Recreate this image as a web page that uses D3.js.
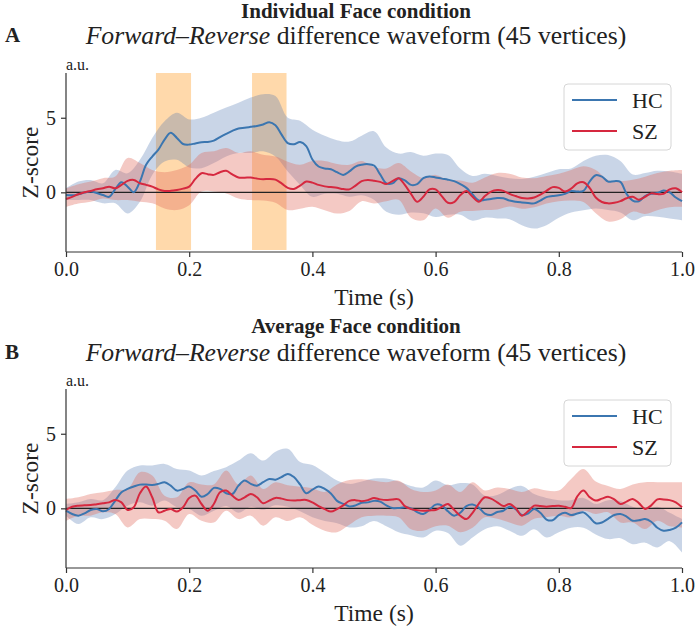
<!DOCTYPE html>
<html><head><meta charset="utf-8">
<script src="https://cdn.jsdelivr.net/npm/d3@7"></script>
<style>body{margin:0;background:#fff}svg{display:block}text{font-family:"Liberation Serif","Times New Roman",serif;fill:#222}</style>
</head><body><svg id="c" width="696" height="628"></svg>
<script>
// ---------- data ----------
const meanTime = d3.range(101).map(i => i / 100);
const bandTime = d3.range(51).map(i => i / 50);
const xTicks = [0, 0.2, 0.4, 0.6, 0.8, 1.0];
const xTickLabels = ["0.0", "0.2", "0.4", "0.6", "0.8", "1.0"];
const yTicks = [0, 5];
const yTickLabels = ["0", "5"];
const seriesNames = ["HC", "SZ"];
const spanStart = [0.146, 0.302];
const spanEnd = [0.203, 0.358];

// Panel A – Individual Face
const aHC = [-0.18,-0.2,-0.13,-0.02,0.05,-0.05,-0.18,-0.3,0.22,0.68,0.38,0.0,0.72,1.85,2.4,2.86,3.54,3.99,3.65,3.24,3.2,3.28,3.36,3.38,3.47,3.7,3.92,4.12,4.28,4.33,4.39,4.45,4.55,4.7,4.5,3.87,3.3,3.22,3.38,3.1,2.2,1.73,1.6,1.55,1.35,1.17,1.4,1.73,1.85,1.89,1.8,1.2,0.6,0.6,0.95,0.8,0.5,0.55,0.95,1.06,1.0,0.92,0.85,0.75,0.55,0.3,-0.15,-0.55,-0.5,-0.45,-0.38,-0.4,-0.55,-0.63,-0.68,-0.72,-0.74,-0.55,-0.32,-0.25,-0.2,-0.1,0.09,0.05,0.1,0.72,1.15,1.05,0.72,0.75,0.7,-0.1,-0.55,-0.6,-0.25,-0.1,-0.05,0.12,0.0,-0.35,-0.59];
const aSZ = [-0.45,-0.3,-0.13,0.0,0.09,0.2,0.27,0.38,0.27,0.5,0.77,0.83,0.61,0.5,0.38,0.2,0.09,0.1,0.16,0.25,0.38,0.9,1.28,1.22,1.17,1.35,1.44,1.2,0.99,0.98,0.99,0.92,0.88,0.9,0.85,0.6,0.3,0.23,0.45,0.72,0.65,0.5,0.4,0.35,0.3,0.22,0.2,0.45,0.75,0.83,0.78,0.7,0.56,0.75,0.95,0.5,-0.1,-0.63,-0.3,0.2,0.2,-0.25,-0.7,-0.65,-0.2,0.09,-0.3,-0.63,-0.25,0.05,0.15,0.1,-0.1,-0.25,-0.38,-0.41,-0.35,-0.15,0.1,0.35,0.3,0.05,0.25,0.6,0.68,0.3,-0.35,-0.65,-0.74,-0.7,-0.59,-0.4,-0.3,-0.5,-0.3,-0.07,-0.12,-0.1,0.2,0.27,0.0];
const aHCUp = [0.27,0.72,0.83,0.61,1.5,1.28,2.18,3.65,4.77,5.34,4.89,5.0,5.34,5.68,6.01,6.35,6.58,6.45,5.0,4.8,4.2,3.8,3.5,3.4,3.8,4.1,3.0,2.6,2.7,2.45,2.6,2.5,1.6,1.1,1.25,1.1,0.95,0.9,1.05,1.3,1.55,1.6,2.1,2.45,2.5,2.1,1.2,1.3,1.45,1.4,1.25];
const aHCLo = [-0.52,-0.52,-0.52,-0.74,-0.74,-1.42,-0.63,1.17,2.07,2.18,1.67,1.62,1.96,2.41,2.64,2.64,2.75,2.4,1.4,0.5,-0.3,-0.1,-0.1,-0.3,-0.2,-0.5,-1.3,-1.5,-1.35,-1.4,-1.65,-1.5,-1.5,-1.9,-1.7,-1.75,-1.8,-2.2,-2.43,-2.2,-1.7,-1.35,-1.2,-1.08,-1.19,-1.35,-1.87,-1.6,-1.64,-1.75,-1.87];
const aSZUp = [0.27,0.55,0.72,0.95,1.06,2.3,1.96,1.5,1.35,1.5,1.85,2.64,2.75,2.97,2.64,2.75,2.52,2.4,2.05,1.85,2.1,2.1,1.9,1.85,2.1,1.7,1.6,1.96,1.4,0.95,1.17,0.85,0.8,0.65,1.0,1.3,1.25,1.0,0.95,1.1,1.25,1.5,1.75,1.5,0.83,0.75,0.85,1.05,1.3,1.45,1.5];
const aSZLo = [-0.97,-0.75,-0.63,-0.41,-0.52,-0.52,-0.63,-0.74,-1.08,-1.19,-0.86,0.05,0.05,-0.07,-0.41,-0.52,-0.55,-0.7,-1.19,-1.1,-0.97,-1.2,-1.42,-1.25,-0.6,-0.75,-0.6,-0.5,-1.7,-1.87,-1.08,-1.7,-1.3,-1.25,-1.19,-1.15,-0.95,-1.1,-1.0,-0.75,-0.6,-0.55,-0.65,-1.4,-1.95,-1.8,-1.3,-1.45,-1.2,-1.0,-0.97];

// Panel B – Average Face
const bHC = [-0.16,-0.38,-0.49,-0.34,-0.11,-0.04,-0.2,-0.04,0.52,1.08,1.3,1.46,1.59,1.59,1.57,1.64,1.75,1.52,1.19,1.3,1.46,1.19,0.78,0.96,1.37,1.3,1.01,0.96,1.52,1.86,1.64,1.52,1.75,1.97,1.92,2.1,2.31,2.1,1.6,1.01,1.25,1.46,1.3,1.0,0.5,0.3,0.13,0.2,0.38,0.4,0.5,0.45,0.2,0.02,0.02,0.07,0.0,-0.25,-0.38,-0.1,0.25,0.2,-0.2,-0.49,-0.3,0.15,0.25,0.05,-0.35,-0.45,-0.25,-0.16,0.11,-0.05,-0.45,-0.35,-0.05,-0.3,-0.75,-0.8,-0.45,-0.3,-0.45,-0.35,-0.27,-0.6,-1.0,-0.95,-0.7,-0.45,-0.38,-0.55,-0.83,-0.8,-0.72,-0.9,-1.3,-1.5,-1.45,-1.3,-0.94];
const bSZ = [-0.11,0.11,0.18,0.2,0.22,0.28,0.34,0.4,0.56,0.4,-0.11,0.07,1.01,1.46,0.74,-0.27,-0.16,-0.04,-0.22,0.07,0.69,0.85,0.29,-0.16,0.29,1.08,1.19,0.85,0.56,0.74,0.96,0.74,0.34,0.52,0.7,0.65,0.55,0.52,0.55,0.56,0.4,0.15,-0.05,-0.22,-0.05,0.2,0.5,0.55,0.48,0.55,0.69,0.6,0.56,0.6,0.6,0.15,-0.05,-0.12,-0.16,-0.14,-0.11,0.1,0.29,-0.1,-0.5,-0.72,-0.3,0.3,0.74,0.65,0.4,0.15,0.29,0.0,-0.49,-0.2,0.18,0.15,0.11,0.15,0.18,0.1,0.02,0.8,1.19,0.75,0.52,0.65,0.78,0.6,0.29,0.45,0.63,0.35,-0.04,0.2,0.6,0.6,0.55,0.4,0.07];
const bHCUp = [0.29,0.4,0.63,0.55,1.41,2.53,2.87,2.87,2.98,2.64,2.53,2.2,2.5,2.76,3.2,3.7,3.2,3.8,3.99,3.1,2.9,2.4,1.86,1.64,1.8,2.0,2.0,1.8,1.5,1.4,1.86,1.55,1.7,1.6,0.85,0.9,1.3,1.5,0.96,0.7,0.55,0.55,0.7,0.3,0.55,0.5,0.1,-0.1,0.1,-0.3,-0.72];
const bHCLo = [-0.49,-1.05,-0.6,-0.72,-0.38,0.18,0.4,0.18,0.52,0.07,-0.04,-0.49,-0.16,0.15,-0.3,0.11,-0.1,0.2,0.1,-0.2,-0.6,-0.85,-1.0,-1.28,-1.2,-0.85,-1.2,-1.6,-1.8,-1.95,-1.5,-1.65,-2.5,-1.95,-1.4,-1.2,-1.5,-1.84,-1.4,-1.95,-1.6,-1.3,-1.3,-1.75,-2.06,-2.0,-2.4,-2.3,-2.62,-2.2,-2.96];
const bSZUp = [0.63,0.74,0.96,1.08,1.23,1.3,2.42,2.2,0.85,0.74,1.75,1.6,1.6,2.53,1.6,2.2,1.3,1.75,1.55,1.45,1.35,1.1,1.6,1.9,1.95,1.85,1.75,1.85,1.3,1.1,1.2,1.6,1.1,1.75,1.2,1.4,1.3,1.1,1.35,1.2,1.2,1.97,2.64,1.8,1.5,1.3,1.6,1.75,1.75,1.75,1.75];
const bSZLo = [-0.83,-0.49,-0.49,-0.27,-0.38,-1.28,-0.72,-0.72,-0.83,-1.39,-0.38,-0.83,-0.95,-0.16,-0.72,-0.49,-1.16,-0.6,-0.85,-0.6,-1.1,-1.5,-1.6,-1.1,-0.6,-0.5,-0.5,-0.6,-1.4,-1.5,-1.2,-1.16,-1.6,-1.3,-0.6,-0.7,-0.95,-1.16,-0.7,-0.6,-0.5,-0.6,-0.16,-0.38,-0.27,-0.95,-0.95,-1.39,-0.83,-1.2,-1.28];

// ---------- drawing ----------
const svg = d3.select("#c");
const lineColor = {HC: "#3b76b0", SZ: "#d6283f"};
const bandColor = {HC: "#4b73af", SZ: "#e0685c"};
const bandOpacity = {HC: 0.3, SZ: 0.36};

function panel(cfg) {
  const x = d3.scaleLinear().domain([0, 1]).range([66, 682]);
  const y = d3.scaleLinear().domain([-4, 8]).range([cfg.bottom, cfg.top]);
  const g = svg.append("g");

  // titles
  svg.append("text").attr("x", 356).attr("y", cfg.titleY).attr("text-anchor", "middle")
    .attr("font-weight", "bold").attr("font-size", 21).text(cfg.title);
  const sub = svg.append("text").attr("x", 356).attr("y", cfg.subY).attr("text-anchor", "middle").attr("font-size", 25.7);
  sub.append("tspan").attr("font-style", "italic").text("Forward–Reverse");
  sub.append("tspan").text(" difference waveform (45 vertices)");
  svg.append("text").attr("x", 5).attr("y", cfg.letterY).attr("font-weight", "bold").attr("font-size", 21).text(cfg.letter);
  svg.append("text").attr("x", 66).attr("y", cfg.top - 3).attr("font-size", 16).text("a.u.");

  // spans
  if (cfg.spans) {
    g.selectAll("rect.span").data(spanStart).join("rect").attr("class", "span")
      .attr("x", (d) => x(d)).attr("width", (d, i) => x(spanEnd[i]) - x(d))
      .attr("y", y(8)).attr("height", y(-4) - y(8) - 2)
      .attr("fill", "#ff8c00").attr("fill-opacity", 0.33);
  }

  // bands
  cfg.series.forEach(s => {
    const area = d3.area().x((d, i) => x(bandTime[i])).y0((d, i) => y(s.lo[i])).y1((d, i) => y(s.up[i])).curve(d3.curveCatmullRom.alpha(0.5));
    g.append("path").datum(s.up).attr("d", area).attr("fill", bandColor[s.name]).attr("fill-opacity", bandOpacity[s.name]);
  });
  // zero line
  g.append("line").attr("x1", x(0)).attr("x2", x(1)).attr("y1", y(0)).attr("y2", y(0)).attr("stroke", "#222").attr("stroke-width", 1.2);
  // lines
  cfg.series.forEach(s => {
    const line = d3.line().x((d, i) => x(meanTime[i])).y(d => y(d)).curve(d3.curveCatmullRom.alpha(0.5));
    g.append("path").datum(s.mean).attr("d", line).attr("fill", "none").attr("stroke", lineColor[s.name]).attr("stroke-width", 2);
  });

  // axes
  const xa = g.append("g").attr("transform", `translate(0,${cfg.bottom})`)
    .call(d3.axisBottom(x).tickValues(xTicks).tickFormat((d, i) => xTickLabels[i]).tickSize(5).tickPadding(5));
  const ya = g.append("g").attr("transform", `translate(66,0)`)
    .call(d3.axisLeft(y).tickValues(yTicks).tickFormat((d, i) => yTickLabels[i]).tickSize(5).tickPadding(5));
  [xa, ya].forEach(a => {
    a.selectAll("path").attr("stroke", "#333").attr("stroke-width", 1.2);
    a.selectAll("line").attr("stroke", "#333").attr("stroke-width", 1.2);
    a.selectAll("text").attr("font-size", 20).attr("font-family", '"Liberation Serif",serif').attr("fill", "#222");
  });
  ya.select("path.domain").attr("d", `M-0,${cfg.top}V${cfg.bottom}`);
  xa.select("path.domain").attr("d", `M66,0H682`);

  svg.append("text").attr("x", 374).attr("y", cfg.bottom + 53).attr("text-anchor", "middle").attr("font-size", 23.5).text("Time (s)");
  svg.append("text").attr("transform", `translate(38,${(cfg.top + cfg.bottom) / 2}) rotate(-90)`).attr("text-anchor", "middle").attr("font-size", 23.5).text("Z-score");

  // legend
  const lg = svg.append("g").attr("transform", `translate(564,${cfg.legendY})`);
  lg.append("rect").attr("width", 107).attr("height", 66).attr("rx", 4).attr("fill", "#fff").attr("fill-opacity", 0.8).attr("stroke", "#d6d6d6");
  seriesNames.forEach((n, i) => {
    const yy = 16 + i * 31;
    lg.append("line").attr("x1", 8).attr("x2", 53).attr("y1", yy).attr("y2", yy).attr("stroke", lineColor[n]).attr("stroke-width", 2);
    lg.append("text").attr("x", 68).attr("y", yy + 8).attr("font-size", 22).text(n);
  });
}

panel({title: "Individual Face condition", letter: "A", titleY: 18, subY: 44, letterY: 42, top: 73, bottom: 252, legendY: 84, spans: true,
  series: [{name: "HC", mean: aHC, up: aHCUp, lo: aHCLo}, {name: "SZ", mean: aSZ, up: aSZUp, lo: aSZLo}]});
panel({title: "Average Face condition", letter: "B", titleY: 333, subY: 361, letterY: 359, top: 389, bottom: 568, legendY: 400, spans: false,
  series: [{name: "HC", mean: bHC, up: bHCUp, lo: bHCLo}, {name: "SZ", mean: bSZ, up: bSZUp, lo: bSZLo}]});
</script></body></html>
